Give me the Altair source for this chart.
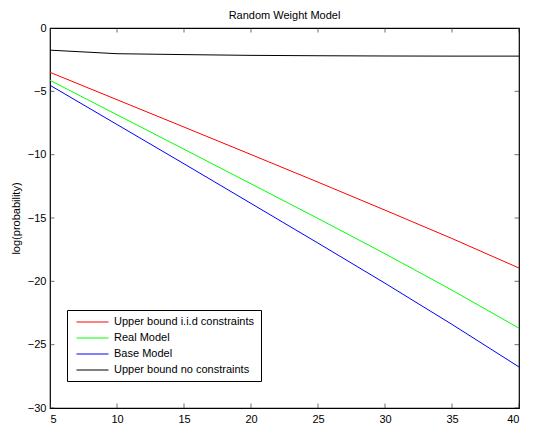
import altair as alt
import pandas as pd

n_values = [5, 10, 15, 20, 25, 30, 35, 40]
upper_iid = [-3.5, -5.66, -7.82, -9.99, -12.17, -14.38, -16.62, -18.95]
real_model = [-4.13, -6.85, -9.57, -12.3, -15.04, -17.82, -20.7, -23.7]
base_model = [-4.52, -7.62, -10.72, -13.85, -16.98, -20.15, -23.4, -26.76]
upper_none = [-1.75, -2.03, -2.1, -2.16, -2.19, -2.21, -2.22, -2.22]

series_names = ["Upper bound i.i.d constraints", "Real Model", "Base Model", "Upper bound no constraints"]
series_colors = ["#ff0000", "#00ff00", "#0000ff", "#000000"]
x_ticks = [5, 10, 15, 20, 25, 30, 35, 40]
y_ticks = [-30, -25, -20, -15, -10, -5, 0]

rows = []
for name, vals in zip(series_names, [upper_iid, real_model, base_model, upper_none]):
    for n, v in zip(n_values, vals):
        rows.append({"n": n, "value": v, "series": name})
df = pd.DataFrame(rows)

FONT = "Liberation Sans"

xscale = alt.Scale(domain=[5, 40], nice=False, zero=False)
yscale = alt.Scale(domain=[-30, 0], nice=False, zero=False)

lines = alt.Chart(df).mark_line(strokeWidth=1, clip=True).encode(
    x=alt.X("n:Q", scale=xscale,
            axis=alt.Axis(values=x_ticks, title="n", ticks=False, domain=False, grid=False,
                          labelPadding=5, titlePadding=2)),
    y=alt.Y("value:Q", scale=yscale,
            axis=alt.Axis(values=y_ticks, title="log(probability)", ticks=False, domain=False,
                          grid=False, labelPadding=4, titlePadding=6)),
    color=alt.Color("series:N",
                    scale=alt.Scale(domain=series_names, range=series_colors),
                    sort=series_names,
                    legend=alt.Legend(orient="none", legendX=17, legendY=282, title=None,
                                      strokeColor="black", fillColor="white", padding=6,
                                      symbolType="M-0.5,0.125H7.5", symbolSize=64, symbolStrokeWidth=1,
                                      labelFontSize=11, labelFont=FONT, labelLimit=0,
                                      labelOffset=30, rowPadding=4)),
)

xt = pd.DataFrame([{"n": t, "edge": e} for t in x_ticks for e in [-30, 0]])
yt = pd.DataFrame([{"edge": e, "value": t} for t in y_ticks for e in [5, 40]])

xticks = alt.Chart(xt).mark_tick(orient="vertical", size=9, thickness=1, color="#333333", clip=True).encode(
    x=alt.X("n:Q", scale=xscale), y=alt.Y("edge:Q", scale=yscale))
yticks = alt.Chart(yt).mark_tick(orient="horizontal", size=9, thickness=1, color="#333333", clip=True).encode(
    x=alt.X("edge:Q", scale=xscale), y=alt.Y("value:Q", scale=yscale))

chart = alt.layer(lines, xticks, yticks).properties(
    width=469, height=380,
    title=alt.TitleParams("Random Weight Model", fontSize=11, fontWeight="normal", font=FONT,
                          anchor="middle", offset=1),
    autosize=alt.AutoSizeParams(type="none"),
    padding={"left": 42, "top": 20, "right": 11, "bottom": 15},
).configure_view(stroke="black", strokeWidth=1.2).configure_axis(
    labelFont=FONT, titleFont=FONT, labelFontSize=11, titleFontSize=11,
    labelColor="black", titleColor="black", titleFontWeight="normal"
)

chart.save("out.html", embed_options={"renderer": "svg", "actions": False})
